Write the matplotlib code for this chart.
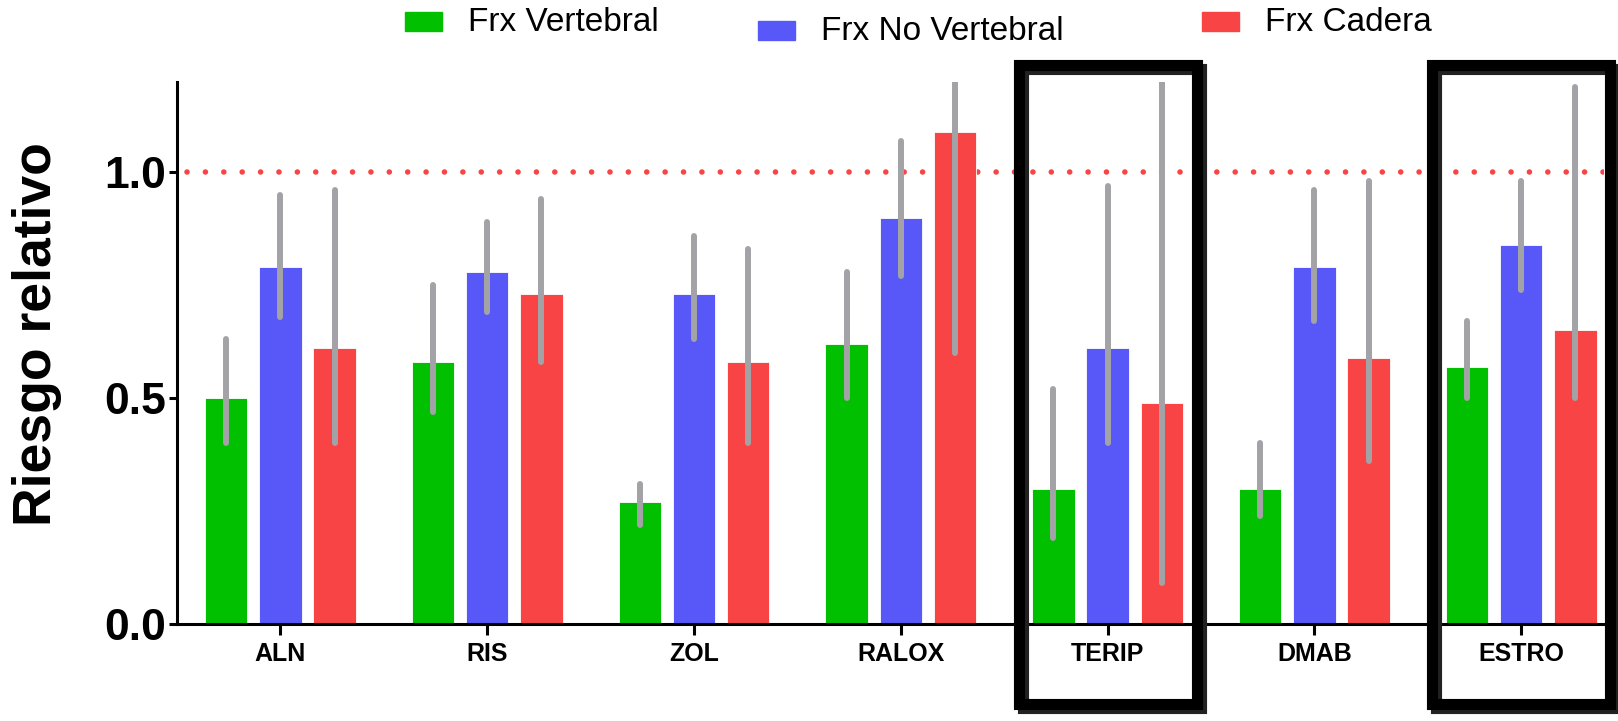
import matplotlib
matplotlib.use("Agg")
import matplotlib.pyplot as plt
from matplotlib.patches import Rectangle
import numpy as np

# fármacos y riesgo relativo (RR) con su intervalo de confianza
farmacos = ['ALN', 'RIS', 'ZOL', 'RALOX', 'TERIP', 'DMAB', 'ESTRO']
series = ['Frx Vertebral', 'Frx No Vertebral', 'Frx Cadera']
colores = ['#00C000', '#5858F8', '#F84444']

rr_vertebral = [0.50, 0.58, 0.27, 0.62, 0.30, 0.30, 0.57]
ic_vertebral_inf = [0.40, 0.47, 0.22, 0.50, 0.19, 0.24, 0.50]
ic_vertebral_sup = [0.63, 0.75, 0.31, 0.78, 0.52, 0.40, 0.67]

rr_no_vertebral = [0.79, 0.78, 0.73, 0.90, 0.61, 0.79, 0.84]
ic_no_vertebral_inf = [0.68, 0.69, 0.63, 0.77, 0.40, 0.67, 0.74]
ic_no_vertebral_sup = [0.95, 0.89, 0.86, 1.07, 0.97, 0.96, 0.98]

rr_cadera = [0.61, 0.73, 0.58, 1.09, 0.49, 0.59, 0.65]
ic_cadera_inf = [0.40, 0.58, 0.40, 0.60, 0.09, 0.36, 0.50]
ic_cadera_sup = [0.96, 0.94, 0.83, 1.25, 1.25, 0.98, 1.19]

# grupos resaltados con un recuadro
resaltados = ['TERIP', 'ESTRO']

W, H = 1618, 721
fig = plt.figure(figsize=(W / 100, H / 100), dpi=100)
ax = fig.add_axes([177 / W, 97 / H, 1427 / W, 542 / H])

x = np.arange(len(farmacos))
ancho = 0.205
paso = 0.262

datos = [
    (rr_vertebral, ic_vertebral_inf, ic_vertebral_sup),
    (rr_no_vertebral, ic_no_vertebral_inf, ic_no_vertebral_sup),
    (rr_cadera, ic_cadera_inf, ic_cadera_sup),
]

# línea de referencia RR = 1 (punteada, detrás de las barras)
ax.plot([-0.45, 6.4], [1.0, 1.0], color='#F84444', lw=4.0,
        ls=(0, (0.01, 3.3)), dash_capstyle='round', zorder=1)

for i, (rr, inf, sup) in enumerate(datos):
    pos = x + (i - 1) * paso
    ax.bar(pos, rr, width=ancho, color=colores[i], edgecolor='white',
           linewidth=0.6, zorder=2)
    ax.vlines(pos, inf, sup, color='#A3A3A7', linewidth=4.3,
              capstyle='round', zorder=3)

ax.set_xlim(-0.5, 6.4)
ax.set_ylim(0, 1.2)
ax.set_yticks([0, 0.5, 1.0])
ax.set_yticklabels(['0.0', '0.5', '1.0'])
ax.set_xticks(x)
ax.set_xticklabels(farmacos)

for lab in ax.get_yticklabels():
    lab.set_fontsize(32)
    lab.set_fontweight('heavy')
    lab.set_family(['Liberation Sans', 'DejaVu Sans'])
for lab in ax.get_xticklabels():
    lab.set_fontsize(18)
    lab.set_fontweight('bold')
    lab.set_family(['Liberation Sans', 'DejaVu Sans'])

ax.tick_params(axis='y', length=6, width=2.2, pad=2)
ax.tick_params(axis='x', length=8, width=2.2, pad=5)
for lado in ['top', 'right']:
    ax.spines[lado].set_visible(False)
for lado in ['left', 'bottom']:
    ax.spines[lado].set_linewidth(2.2)

fig.text(37 / W, 1 - 334 / H, 'Riesgo relativo', rotation=90, ha='center',
         va='center', fontsize=38.5, fontweight='bold',
         family=['Liberation Sans', 'DejaVu Sans'])

# recuadros con sombra alrededor de los grupos resaltados
dx, dy = 4 / 206.8, 4 / 451.7
for nombre in resaltados:
    c = farmacos.index(nombre)
    x0, x1 = c - 0.43, c + 0.43
    y0, y1 = -0.178, 1.237
    ax.add_patch(Rectangle((x0 + dx, y0 - dy), x1 - x0, y1 - y0, fill=False,
                           edgecolor='#222222', linewidth=8, clip_on=False,
                           zorder=4))
    ax.add_patch(Rectangle((x0, y0), x1 - x0, y1 - y0, fill=False,
                           edgecolor='black', linewidth=8, clip_on=False,
                           zorder=5))

# leyenda en tres posiciones escalonadas
leyenda_x = [405, 758, 1202]
leyenda_y = [21.5, 30.5, 21.5]
for nombre, color, lx, ly in zip(series, colores, leyenda_x, leyenda_y):
    fig.add_artist(Rectangle((lx / W, 1 - (ly + 9.5) / H), 37 / W, 19 / H,
                             transform=fig.transFigure, color=color))
    fig.text((lx + 63) / W, 1 - (ly + 1) / H, nombre, ha='left', va='center',
             fontsize=24, family=['Liberation Sans', 'DejaVu Sans'])

fig.savefig('out.png', dpi=100)
